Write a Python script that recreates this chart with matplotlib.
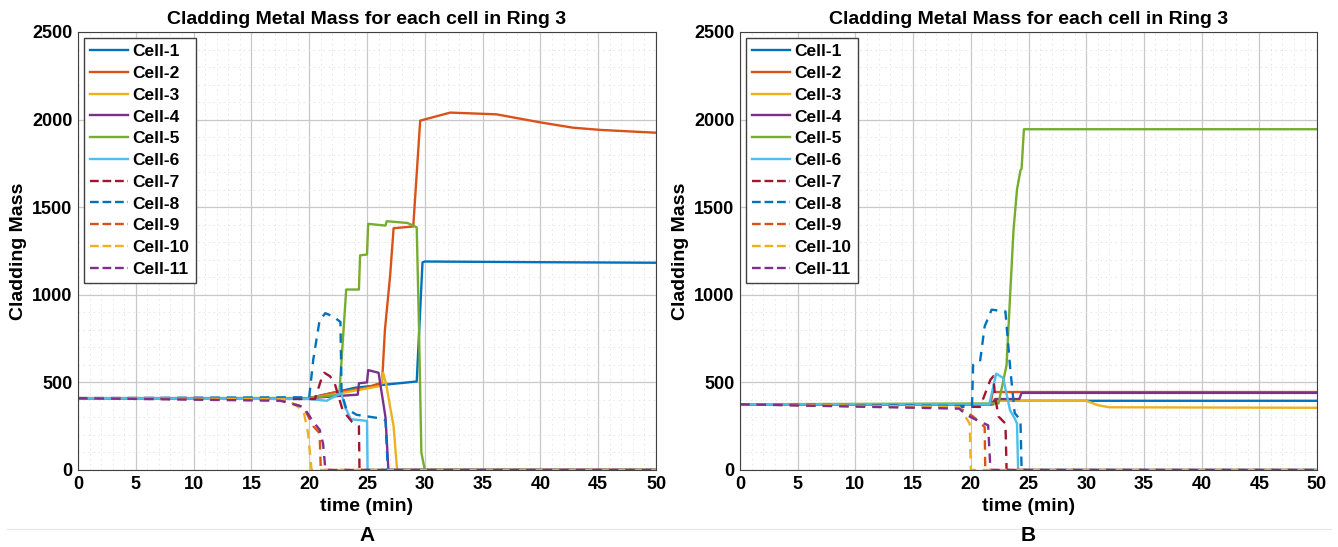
import matplotlib.pyplot as plt
from matplotlib.lines import Line2D
from matplotlib.ticker import MultipleLocator

plt.rcParams['font.family'] = ['Liberation Sans', 'DejaVu Sans']
plt.rcParams['font.weight'] = 'bold'

cells = ["Cell-%d" % i for i in range(1, 12)]
colors = ["#0072BD", "#D95319", "#EDB120", "#7E2F8E", "#77AC30", "#4DBEEE",
          "#A2142F", "#0072BD", "#D95319", "#EDB120", "#7E2F8E"]
styles = ["-"] * 6 + ["--"] * 5

# ---- case A ----
tA1 = [0, 20, 22, 24, 27, 29.3, 29.8, 30, 35, 40, 50]
vA1 = [410, 410, 440, 470, 490, 505, 1185, 1190, 1188, 1186, 1183]
tA2 = [0, 20, 22, 25, 26.3, 26.55, 27.0, 27.3, 29.0, 29.6, 32.2, 36.2, 40, 42.8, 45.2, 50]
vA2 = [410, 410, 440, 470, 500, 800, 1110, 1380, 1390, 1994, 2040, 2030, 1984, 1954, 1941, 1925]
tA3 = [0, 20, 22, 25, 26.2, 26.4, 26.7, 27.0, 27.3, 27.6, 50]
vA3 = [410, 410, 430, 465, 480, 555, 475, 360, 250, 0, 0]
tA4 = [0, 20, 22, 24.2, 24.3, 25.0, 25.1, 26.0, 26.2, 26.6, 26.85, 50]
vA4 = [410, 410, 420, 430, 495, 500, 570, 555, 470, 300, 0, 0]
tA5 = [0, 20, 22.6, 23.2, 24.3, 24.4, 25.0, 25.1, 26.6, 26.7, 28.5, 29.3, 29.5, 29.7, 30, 50]
vA5 = [410, 410, 430, 1030, 1030, 1225, 1230, 1405, 1395, 1420, 1410, 1385, 800, 100, 0, 0]
tA6 = [0, 20, 21.5, 22.5, 22.7, 23.1, 23.6, 25.0, 25.05, 50]
vA6 = [410, 405, 395, 430, 455, 360, 290, 280, 0, 0]
tA7 = [0, 20.5, 21.1, 21.3, 21.8, 22.2, 22.9, 23.7, 24.3, 24.35, 50]
vA7 = [410, 405, 530, 555, 535, 495, 340, 275, 250, 0, 0]
tA8 = [0, 20.0, 20.35, 20.9, 21.4, 22.1, 22.7, 22.8, 23.2, 24.1, 26.1, 26.6, 26.8, 50]
vA8 = [410, 415, 630, 855, 895, 875, 845, 440, 350, 315, 295, 285, 0, 0]
tA9 = [0, 17.5, 19.5, 20.35, 20.9, 21.0, 50]
vA9 = [410, 400, 360, 250, 210, 0, 0]
tA10 = [0, 18, 19.5, 19.9, 20.2, 50]
vA10 = [410, 405, 340, 210, 0, 0]
tA11 = [0, 17.5, 19.5, 20.35, 20.9, 21.2, 21.4, 50]
vA11 = [410, 395, 360, 275, 230, 150, 0, 0]

# ---- case B ----
tB1 = [0, 21.8, 22.0, 50]
vB1 = [375, 375, 395, 395]
tB2 = [0, 21.7, 21.9, 50]
vB2 = [375, 375, 445, 445]
tB3 = [0, 22.0, 22.2, 30.0, 31.0, 32.0, 50]
vB3 = [375, 375, 395, 395, 370, 358, 355]
tB4 = [0, 21.9, 22.1, 24.2, 24.4, 50]
vB4 = [375, 375, 405, 405, 440, 440]
tB5 = [0, 22.4, 23.1, 23.4, 23.7, 24.0, 24.3, 24.4, 24.6, 50]
vB5 = [375, 380, 600, 990, 1370, 1600, 1710, 1720, 1945, 1945]
tB6 = [0, 21.6, 22.2, 22.8, 23.4, 23.8, 24.0, 24.1, 50]
vB6 = [375, 375, 550, 525, 340, 295, 265, 0, 0]
tB7 = [0, 20.8, 21.7, 21.95, 22.1, 22.4, 23.0, 23.1, 50]
vB7 = [375, 360, 515, 535, 420, 305, 265, 0, 0]
tB8 = [0, 20.1, 20.2, 20.8, 21.2, 21.8, 23.0, 23.4, 23.8, 24.3, 24.4, 50]
vB8 = [375, 365, 600, 620, 820, 915, 905, 590, 325, 285, 0, 0]
tB9 = [0, 19.0, 20.2, 21.2, 21.25, 50]
vB9 = [375, 355, 305, 245, 0, 0]
tB10 = [0, 19.0, 19.9, 20.0, 50]
vB10 = [375, 360, 265, 0, 0]
tB11 = [0, 19.0, 19.6, 20.5, 21.5, 21.7, 50]
vB11 = [375, 350, 315, 285, 255, 0, 0]

caseA = [(tA1, vA1), (tA2, vA2), (tA3, vA3), (tA4, vA4), (tA5, vA5), (tA6, vA6),
         (tA7, vA7), (tA8, vA8), (tA9, vA9), (tA10, vA10), (tA11, vA11)]
caseB = [(tB1, vB1), (tB2, vB2), (tB3, vB3), (tB4, vB4), (tB5, vB5), (tB6, vB6),
         (tB7, vB7), (tB8, vB8), (tB9, vB9), (tB10, vB10), (tB11, vB11)]

fig = plt.figure(figsize=(13.38, 5.47), dpi=100)
axA = fig.add_axes([0.0583, 0.1408, 0.432, 0.8007])
axB = fig.add_axes([0.5531, 0.1408, 0.4312, 0.8007])

for ax, data, tag in [(axA, caseA, "A"), (axB, caseB, "B")]:
    for (t, v), name, c, ls in zip(data, cells, colors, styles):
        ax.plot(t, v, color=c, ls=ls, lw=1.7, label=name,
                dashes=(4, 3) if ls == "--" else (None, None))
    ax.set_xlim(0, 50)
    ax.set_ylim(0, 2500)
    ax.xaxis.set_major_locator(MultipleLocator(5))
    ax.yaxis.set_major_locator(MultipleLocator(500))
    ax.xaxis.set_minor_locator(MultipleLocator(1))
    ax.yaxis.set_minor_locator(MultipleLocator(100))
    ax.grid(True, which="major", color="#c8c8c8", lw=0.9)
    ax.grid(True, which="minor", color="#e4e4e4", lw=0.6, ls=(0, (2, 4)))
    ax.set_axisbelow(True)
    ax.tick_params(which="both", direction="in", length=0, labelsize=13, pad=4)
    for lab in ax.get_xticklabels() + ax.get_yticklabels():
        lab.set_fontweight("bold")
    for s in ax.spines.values():
        s.set_color("#404040")
        s.set_linewidth(0.8)
    ax.set_title("Cladding Metal Mass for each cell in Ring 3", fontsize=14,
                 fontweight="bold", pad=6)
    ax.set_xlabel("time (min)", fontsize=14, fontweight="bold", labelpad=4)
    ax.set_ylabel("Cladding Mass", fontsize=14, fontweight="bold", labelpad=4)
    handles = [Line2D([], [], color=c, ls=ls, lw=1.7) for c, ls in zip(colors, styles)]
    ax.legend(handles, cells, loc="upper left", frameon=True,
              fancybox=False, edgecolor="#404040", framealpha=1,
              handlelength=2.2, handletextpad=0.25, labelspacing=0.38,
              borderpad=0.35, borderaxespad=0.35,
              prop={"weight": "bold", "size": 12.5})
    box = ax.get_position()
    fig.text(box.x0 + box.width / 2, 0.004, tag, ha="center", va="bottom",
             fontsize=15, fontweight="bold")

# thin separator above the panel letters
fig.add_artist(Line2D([0.005, 0.995], [0.033, 0.033], color="#e6e6e6", lw=0.8,
                      transform=fig.transFigure))
fig.savefig("out.png", dpi=100)
